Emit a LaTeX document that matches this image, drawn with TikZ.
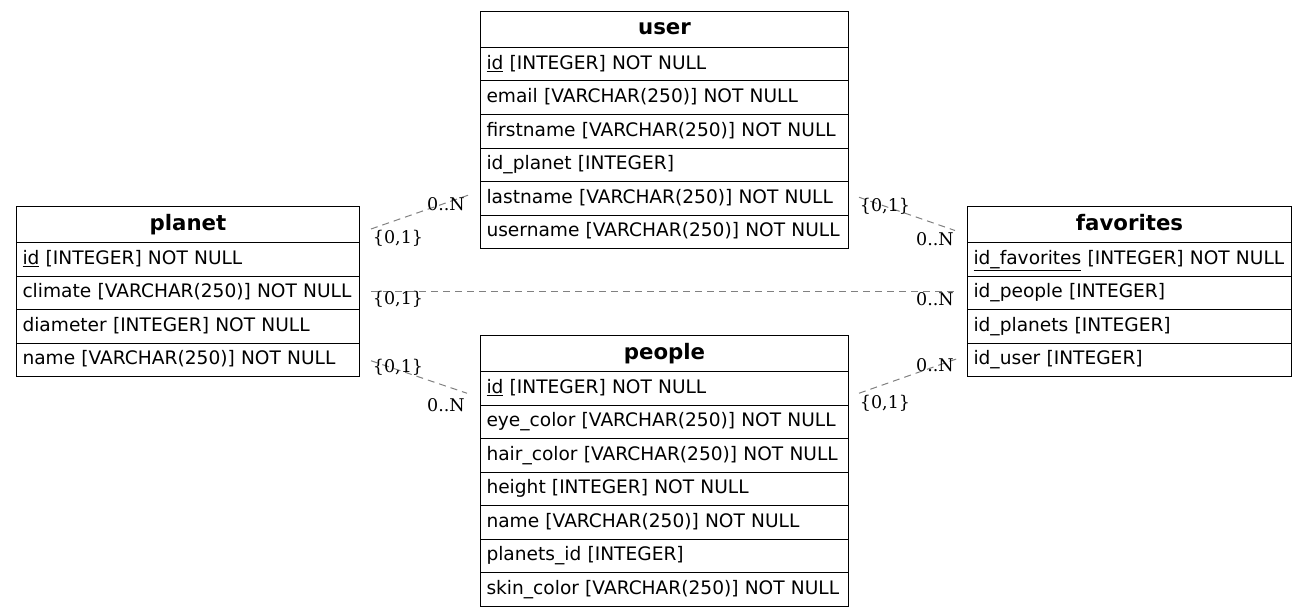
\documentclass[tikz,border=0pt]{standalone}
\usepackage{fontspec}
\setmainfont{DejaVu Sans}
\newfontfamily\labfont{DejaVu Serif}
\begin{document}
\begin{tikzpicture}[x=1pt,y=-1pt,
  cell/.style={draw=black, line width=1pt, anchor=north west, inner xsep=6pt, inner ysep=0pt,
    text width=#1-12pt, minimum height=33.5pt, align=left, font=\fontsize{18.6}{21}\selectfont,
    text height=14pt, text depth=4pt},
  head/.style={draw=black, line width=1pt, anchor=north west, inner xsep=6pt, inner ysep=0pt,
    text width=#1-12pt, minimum height=36pt, align=center, font=\fontsize{21.3}{24}\selectfont\bfseries,
    text height=15pt, text depth=4pt},
  rel/.style={draw=gray, dash pattern=on 7pt off 5pt, line width=1pt},
  card/.style={font=\labfont\fontsize{17.5}{20}\selectfont, inner sep=0pt},
  ul/.style={}
]
\useasboundingbox (0,0) rectangle (1308,615);

% user
\node[head=368pt] (u0) at (480,11) {user};
\node[cell=368pt] (u1) at (480,47) {\underline{id} [INTEGER] NOT NULL};
\node[cell=368pt] (u2) at (480,80.5) {email [VARCHAR(250)] NOT NULL};
\node[cell=368pt] (u3) at (480,114) {firstname [VARCHAR(250)] NOT NULL};
\node[cell=368pt] (u4) at (480,147.5) {id\_planet [INTEGER]};
\node[cell=368pt] (u5) at (480,181) {lastname [VARCHAR(250)] NOT NULL};
\node[cell=368pt] (u6) at (480,214.5) {username [VARCHAR(250)] NOT NULL};

% planet
\node[head=343pt] (p0) at (16,206) {planet};
\node[cell=343pt] (p1) at (16,242) {\underline{id} [INTEGER] NOT NULL};
\node[cell=343pt] (p2) at (16,275.5) {climate [VARCHAR(250)] NOT NULL};
\node[cell=343pt] (p3) at (16,309) {diameter [INTEGER] NOT NULL};
\node[cell=343pt] (p4) at (16,342.5) {name [VARCHAR(250)] NOT NULL};

% favorites
\node[head=324pt] (f0) at (967,206) {favorites};
\node[cell=324pt] (f1) at (967,242) {\underline{id\_favorites} [INTEGER] NOT NULL};
\node[cell=324pt] (f2) at (967,275.5) {id\_people [INTEGER]};
\node[cell=324pt] (f3) at (967,309) {id\_planets [INTEGER]};
\node[cell=324pt] (f4) at (967,342.5) {id\_user [INTEGER]};

% people
\node[head=368pt] (e0) at (480,335) {people};
\node[cell=368pt] (e1) at (480,371) {\underline{id} [INTEGER] NOT NULL};
\node[cell=368pt] (e2) at (480,404.5) {eye\_color [VARCHAR(250)] NOT NULL};
\node[cell=368pt] (e3) at (480,438) {hair\_color [VARCHAR(250)] NOT NULL};
\node[cell=368pt] (e4) at (480,471.5) {height [INTEGER] NOT NULL};
\node[cell=368pt] (e5) at (480,505) {name [VARCHAR(250)] NOT NULL};
\node[cell=368pt] (e6) at (480,538.5) {planets\_id [INTEGER]};
\node[cell=368pt] (e7) at (480,572) {skin\_color [VARCHAR(250)] NOT NULL};

% connectors
\coordinate (a1) at ([shift={(11,-14)}]p0.south east);
\coordinate (a2) at ([shift={(-12,-3)}]u5.west);
\draw[rel] (a1) -- (a2);
\node[card] at (398,238) {\{0,1\}};
\node[card] at (446,204) {0..N};

\coordinate (b1) at ([shift={(10,-1)}]u5.east);
\coordinate (b2) at ([shift={(-12,6)}]f0.west);
\draw[rel] (b1) -- (b2);
\node[card] at (885,206) {\{0,1\}};
\node[card] at (935,239) {0..N};

\coordinate (c1) at ([shift={(11,-1)}]p2.east);
\coordinate (c2) at ([shift={(-12,-1)}]f2.west);
\draw[rel] (c1) -- (c2);
\node[card] at (398,299) {\{0,1\}};
\node[card] at (935,299) {0..N};

\coordinate (d1) at ([shift={(11,1)}]p4.east);
\coordinate (d2) at ([shift={(-13,5)}]e1.west);
\draw[rel] (d1) -- (d2);
\node[card] at (398,367) {\{0,1\}};
\node[card] at (446,405) {0..N};

\coordinate (g1) at ([shift={(10,5)}]e1.east);
\coordinate (g2) at ([shift={(-10,-1)}]f4.west);
\draw[rel] (g1) -- (g2);
\node[card] at (935,365) {0..N};
\node[card] at (885,403) {\{0,1\}};
\end{tikzpicture}
\end{document}
